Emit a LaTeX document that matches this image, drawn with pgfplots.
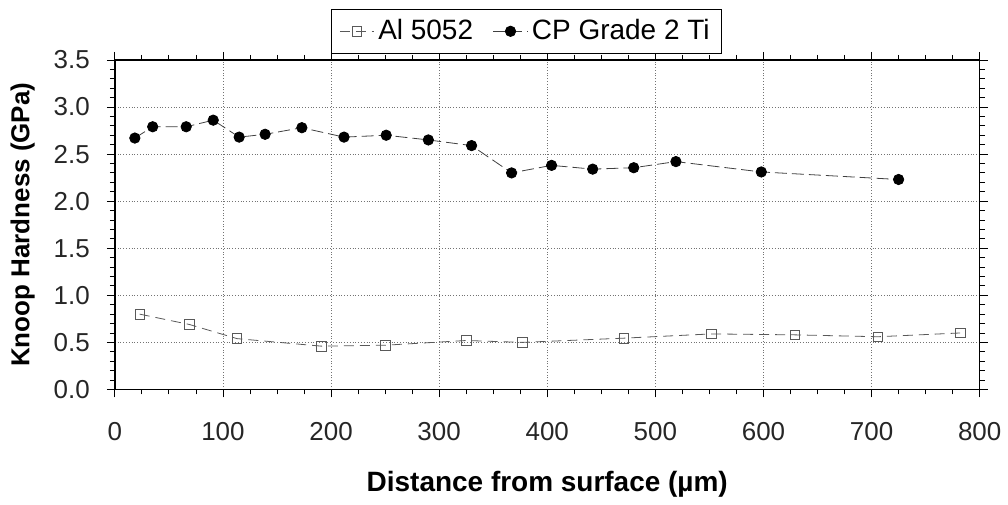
\documentclass[border=0pt]{standalone}
\usepackage{fontspec}
\setmainfont{Liberation Sans}
\usepackage{pgfplots}
\pgfplotsset{compat=1.18}

\begin{document}
\begin{tikzpicture}
\begin{axis}[
    name=ax,
    scale only axis,
    width=433pt, height=165pt,
    xmin=0, xmax=800, ymin=0, ymax=3.5,
    xtick={0,100,...,800},
    ytick={0,0.5,...,3.5},
    minor x tick num=3,
    minor y tick num=4,
    tick align=outside,
    major tick length=4pt,
    minor tick length=2.5pt,
    tick style={black, thin},
    axis line style={black, thick},
    grid=major,
    grid style={densely dotted, black!55},
    /pgf/number format/assume math mode=true,
    yticklabel style={/pgf/number format/fixed, /pgf/number format/fixed zerofill,
        /pgf/number format/precision=1, xshift=-5pt},
    xticklabel style={/pgf/number format/fixed, yshift=-9pt},
    ticklabel style={font=\fontsize{13}{15}\selectfont, text=black!85},
    xlabel={\textbf{Distance from surface (µm)}},
    ylabel={\textbf{Knoop Hardness (GPa)}},
    xlabel style={font=\fontsize{14}{16}\selectfont, at={(axis description cs:0.5,-0.288)}, anchor=center},
    ylabel style={font=\fontsize{13}{15}\selectfont, at={(axis description cs:-0.1065,0.5)}, anchor=center},
    legend columns=2,
    legend style={at={(0.476,1.02)}, anchor=south, draw=black, thin,
        font=\fontsize{14}{16}\selectfont, inner ysep=3pt, inner xsep=4pt,
        /tikz/every even column/.append style={column sep=8pt}},
]
\addplot[gray!70!black, dash pattern=on 5pt off 3pt, mark=square, mark size=2.4pt,
    mark options={solid, draw=black!65, fill=white}] coordinates {
    (23,0.80) (69,0.69) (113,0.54) (191,0.46) (250,0.47) (325,0.52)
    (377,0.50) (471,0.545) (552,0.59) (629,0.58) (706,0.56) (782,0.60)
};
\addlegendentry{Al 5052}
\addplot[black!75, dash pattern=on 6pt off 2.5pt, mark=*, mark size=2.6pt,
    mark options={solid, fill=black, draw=black}] coordinates {
    (18.5,2.67) (35,2.79) (66,2.79) (91,2.86) (115,2.68) (139,2.71)
    (173,2.78) (212,2.68) (251,2.70) (290,2.65) (330,2.59) (367,2.30)
    (404,2.38) (442,2.34) (480,2.355) (519,2.42) (598,2.31) (725,2.23)
};
\addlegendentry{CP Grade 2 Ti}
\end{axis}
\path ([shift={(-57.5pt,-56pt)}]ax.south west) rectangle ([shift={(13.5pt,30pt)}]ax.north east);
\end{tikzpicture}
\end{document}
